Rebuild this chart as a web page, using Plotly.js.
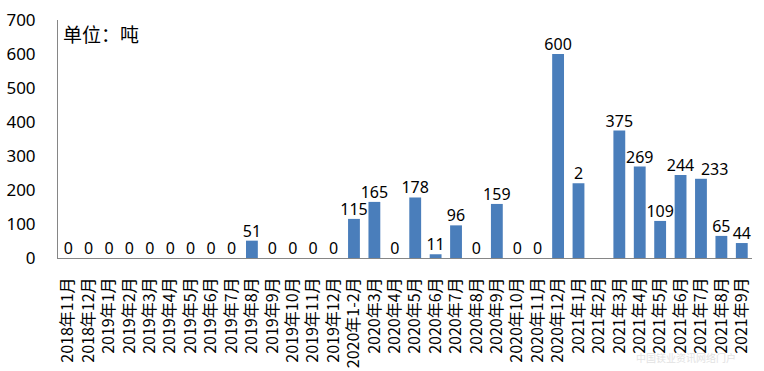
<!DOCTYPE html>
<html><head><meta charset="utf-8">
<script src="https://cdn.plot.ly/plotly-3.0.1.min.js"></script>
<style>html,body{margin:0;padding:0;background:#fff}#chart{width:764px;height:371px}</style>
</head><body><div id="chart"></div>
<script>
var categories = ["2018年11月","2018年12月","2019年1月","2019年2月","2019年3月","2019年4月","2019年5月","2019年6月","2019年7月","2019年8月","2019年9月","2019年10月","2019年11月","2019年12月","2020年1-2月","2020年3月","2020年4月","2020年5月","2020年6月","2020年7月","2020年8月","2020年9月","2020年10月","2020年11月","2020年12月","2021年1月","2021年2月","2021年3月","2021年4月","2021年5月","2021年6月","2021年7月","2021年8月","2021年9月"];
var values = [0,0,0,0,0,0,0,0,0,51,0,0,0,0,115,165,0,178,11,96,0,159,0,0,600,220,null,375,269,109,244,233,65,44];
var valueLabels = ["0","0","0","0","0","0","0","0","0","51","0","0","0","0","115","165","0","178","11","96","0","159","0","0","600","2","","375","269","109","244","233","65","44"];
var yTicks = [0,100,200,300,400,500,600,700];
var unitLabel = "单位：吨";

var labelPos = categories.map(function(c){
  if (c === "2021年7月") return "top right";
  return "top center";
});

var bars = {
  type: "bar",
  x: categories,
  y: values,
  marker: {color: "#4a7ebb"},
  hoverinfo: "x+y"
};
var labels = {
  type: "scatter",
  mode: "text",
  x: categories,
  y: values.map(function(v){return v===null?0:v;}),
  text: valueLabels,
  textposition: labelPos,
  cliponaxis: false,
  textfont: {family: "Noto Sans, sans-serif", size: 16, color: "#000"},
  hoverinfo: "skip"
};
var layout = {
  width: 764, height: 371,
  margin: {l: 58, r: 12, t: 20, b: 113},
  paper_bgcolor: "#fff", plot_bgcolor: "#fff",
  bargap: 0.42,
  showlegend: false,
  xaxis: {
    type: "category",
    categoryorder: "array", categoryarray: categories,
    range: [-0.5, categories.length - 0.5],
    tickmode: "array", tickvals: categories, ticktext: categories,
    tickangle: -90,
    showline: true, linecolor: "#868686", linewidth: 1,
    ticks: "", showgrid: false, zeroline: false,
    tickfont: {family: "Noto Sans CJK SC, sans-serif", size: 16, color: "#000"},
    ticklabelstandoff: 12
  },
  yaxis: {
    range: [0, 700],
    tickvals: yTicks,
    showline: true, linecolor: "#868686", linewidth: 1,
    ticks: "", showgrid: false, zeroline: false,
    tickfont: {family: "Noto Sans, sans-serif", size: 17, color: "#000"},
    ticklabelstandoff: 18
  },
  annotations: [
    {text: unitLabel, xref: "paper", yref: "paper", x: 0.005, y: 1.01, xanchor: "left", yanchor: "top", showarrow: false,
     font: {family: "Noto Sans CJK SC, sans-serif", size: 19, color: "#000"}},
    {text: "中国镁业资讯网络门户", xref: "paper", yref: "paper", x: 0.98, y: -0.42, xanchor: "right", yanchor: "middle", showarrow: false,
     font: {family: "Noto Sans CJK SC, sans-serif", size: 10, color: "#e2e2e2"}}
  ]
};
Plotly.newPlot("chart", [bars, labels], layout, {displayModeBar: false, staticPlot: true});
</script></body></html>
